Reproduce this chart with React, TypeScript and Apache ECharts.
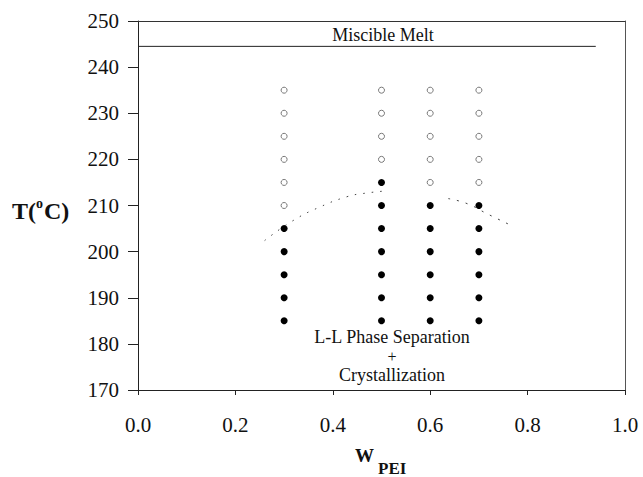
import React, { useEffect, useRef } from "react";
import * as echarts from "echarts";

const openX03 = [0.3, 0.3, 0.3, 0.3, 0.3, 0.3];
const openT03 = [210, 215, 220, 225, 230, 235];
const filledT03 = [185, 190, 195, 200, 205];
const openT05 = [220, 225, 230, 235];
const filledT05 = [185, 190, 195, 200, 205, 210, 215];
const openT06 = [215, 220, 225, 230, 235];
const filledT06 = [185, 190, 195, 200, 205, 210];
const openT07 = [215, 220, 225, 230, 235];
const filledT07 = [185, 190, 195, 200, 205, 210];

const curveLeft: [number, number][] = [
  [0.26, 202.4], [0.318, 206.7], [0.374, 209.7], [0.429, 211.9], [0.462, 212.6], [0.513, 213.2],
];
const curveRight: [number, number][] = [
  [0.637, 211.5], [0.676, 210.4], [0.717, 208.2], [0.768, 205.6],
];
const meltLine: [number, number][] = [[0, 244.5], [0.94, 244.5]];

function pts(x: number, ts: number[]): [number, number][] {
  return ts.map((t) => [x, t]);
}

const SERIF = "Liberation Serif";

function txt(x: number, y: number, text: string, size: number, bold = false) {
  return {
    type: "text",
    x,
    y,
    style: {
      text,
      fontFamily: SERIF,
      fontSize: size,
      fontWeight: bold ? "bold" : "normal",
      fill: "#111",
      align: "left",
      verticalAlign: "middle",
    },
  };
}

function ctxt(x: number, y: number, text: string, size: number) {
  return {
    type: "text",
    x,
    y,
    style: {
      text,
      fontFamily: SERIF,
      fontSize: size,
      fill: "#111",
      align: "center",
      verticalAlign: "middle",
    },
  };
}

export default function App() {
  const ref = useRef<HTMLDivElement>(null);
  useEffect(() => {
    if (!ref.current) return;
    const chart = echarts.init(ref.current, null, { renderer: "svg" });
    const openData = [
      ...openX03.map((x, i) => [x, openT03[i]] as [number, number]),
      ...pts(0.5, openT05),
      ...pts(0.6, openT06),
      ...pts(0.7, openT07),
    ];
    const filledData = [
      ...pts(0.3, filledT03),
      ...pts(0.5, filledT05),
      ...pts(0.6, filledT06),
      ...pts(0.7, filledT07),
    ];
    chart.setOption({
      animation: false,
      backgroundColor: "#fff",
      textStyle: { fontFamily: SERIF },
      grid: { left: 138, right: 18, top: 21, bottom: 87 },
      xAxis: [
        {
          type: "value",
          min: 0,
          max: 1,
          interval: 0.2,
          axisLine: { show: true, lineStyle: { color: "#222", width: 1 } },
          axisTick: { show: true, length: 5, lineStyle: { color: "#222" } },
          axisLabel: {
            margin: 24,
            fontFamily: SERIF,
            fontSize: 21,
            color: "#111",
            formatter: (v: number) => v.toFixed(1),
          },
          splitLine: { show: false },
        },
        {
          type: "value",
          position: "top",
          min: 0,
          max: 1,
          axisLine: { show: true, onZero: false, lineStyle: { color: "#333", width: 1 } },
          axisTick: { show: false },
          axisLabel: { show: false },
          splitLine: { show: false },
        },
      ],
      yAxis: [
        {
          type: "value",
          min: 170,
          max: 250,
          interval: 10,
          axisLine: { show: true, lineStyle: { color: "#222", width: 1 } },
          axisTick: { show: true, length: 10, lineStyle: { color: "#222" } },
          axisLabel: { margin: 19, fontFamily: SERIF, fontSize: 21, color: "#111" },
          splitLine: { show: false },
        },
        {
          type: "value",
          position: "right",
          min: 170,
          max: 250,
          axisLine: { show: true, onZero: false, lineStyle: { color: "#555", width: 1 } },
          axisTick: { show: false },
          axisLabel: { show: false },
          splitLine: { show: false },
        },
      ],
      series: [
        {
          type: "line",
          data: meltLine,
          symbol: "none",
          lineStyle: { color: "#222", width: 1 },
        },
        {
          type: "line",
          data: curveLeft,
          symbol: "none",
          smooth: true,
          lineStyle: { color: "#444", width: 1, type: [1.5, 7] },
        },
        {
          type: "line",
          data: curveRight,
          symbol: "none",
          smooth: true,
          lineStyle: { color: "#444", width: 1, type: [2, 7] },
        },
        {
          type: "scatter",
          data: openData,
          symbol: "circle",
          symbolSize: 6,
          itemStyle: { color: "#fff", borderColor: "#777", borderWidth: 1, opacity: 1 },
        },
        {
          type: "scatter",
          data: filledData,
          symbol: "circle",
          symbolSize: 7,
          itemStyle: { color: "#000", opacity: 1 },
        },
      ],
      graphic: [
        ctxt(383, 35, "Miscible Melt", 18),
        ctxt(392, 337, "L-L Phase Separation", 18),
        ctxt(392, 356, "+", 16),
        ctxt(392, 375, "Crystallization", 18),
        txt(12, 211, "T(", 24, true),
        txt(36, 203, "o", 14, true),
        txt(44, 211, "C)", 24, true),
        txt(355, 455, "W", 19, true),
        txt(378, 468, "PEI", 17, true),
      ],
    });
    return () => chart.dispose();
  }, []);
  return (
    <div
      ref={ref}
      style={{ position: "fixed", left: 0, top: 0, width: 643, height: 477, background: "#fff" }}
    />
  );
}
